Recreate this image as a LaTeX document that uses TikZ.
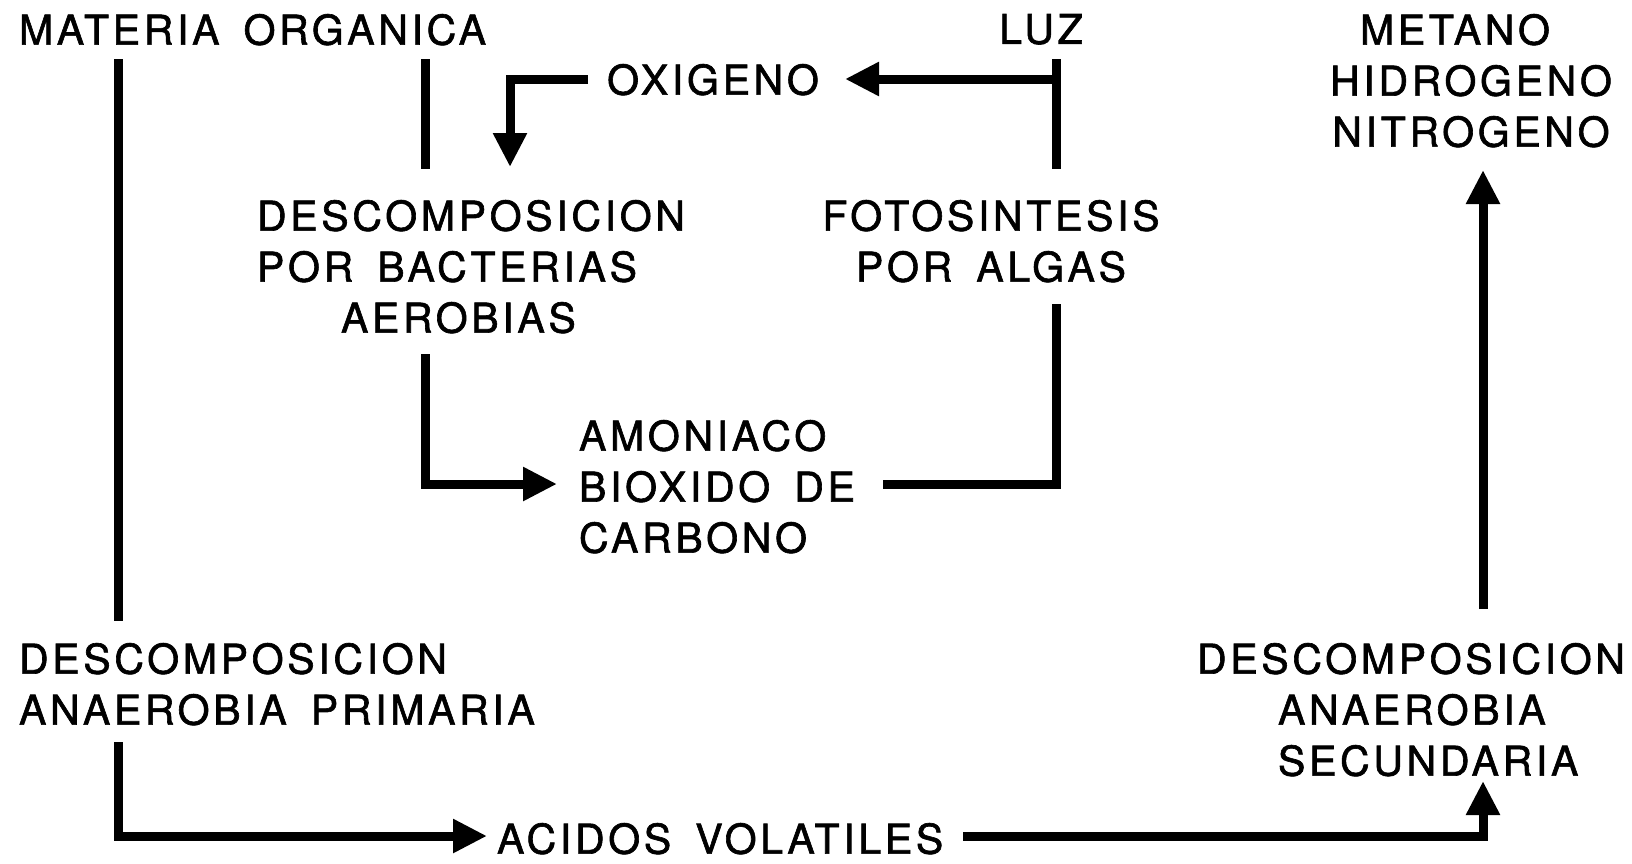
\documentclass[tikz,border=0pt]{standalone}
\usepackage{fontspec}
\setmainfont{TeX Gyre Heros}[LetterSpace=9,WordSpace=1.6,FakeBold=1.5]
\usetikzlibrary{arrows.meta}
\begin{document}
\begin{tikzpicture}[x=1pt,y=-1pt,
  lbl/.style={inner sep=0pt, outer sep=0pt, font=\fontsize{41}{51}\selectfont},
  ln/.style={line width=9pt, line join=miter},
  arr/.style={ln, -{Triangle[length=34pt,width=32pt]}}]
\useasboundingbox[fill=white] (0,0) rectangle (1632,863);

% texts
\node[lbl, anchor=north west] (mat) at (19,14) {MATERIA ORGANICA};
\node[lbl, anchor=north] (luz) at (1041,14) {LUZ};
\node[lbl, anchor=north, align=center] (gas) at (1471,14) {\hspace*{-32pt}METANO\\HIDROGENO\\NITROGENO};
\node[lbl, anchor=north] (oxi) at (713,64) {OXIGENO};
\node[lbl, anchor=north west, align=left] (aer) at (257,200) {DESCOMPOSICION\\POR BACTERIAS\\\hspace*{84pt}AEROBIAS};
\node[lbl, anchor=north, align=center] (foto) at (991,200) {FOTOSINTESIS\\POR ALGAS};
\node[lbl, anchor=north west, align=left] (amo) at (579,420) {AMONIACO\\BIOXIDO DE\\CARBONO};
\node[lbl, anchor=north west, align=left] (prim) at (19,643) {DESCOMPOSICION\\ANAEROBIA PRIMARIA};
\node[lbl, anchor=north west, align=left] (sec) at (1197,643) {DESCOMPOSICION\\\hspace*{81pt}ANAEROBIA\\\hspace*{81pt}SECUNDARIA};
\node[lbl, anchor=north west] (acid) at (497,823) {ACIDOS VOLATILES};

% connector ends
\coordinate (m1) at (118,59);
\coordinate (m2) at (118,621);
\coordinate (o1) at (425,59);
\coordinate (o2) at (425,169);
\coordinate (ox1) at (588,79);
\coordinate (ox2) at (510,167);
\coordinate (l1) at (1056,59);
\coordinate (l2) at (1056,169);
\coordinate (lb) at (1056,79);
\coordinate (oxr) at (845,79);
\coordinate (f1) at (1056,304);
\coordinate (f2) at (883,484);
\coordinate (b1) at (425,354);
\coordinate (b2) at (557,484);
\coordinate (p1) at (118,742);
\coordinate (p2) at (487,836);
\coordinate (v1) at (963,836);
\coordinate (v2) at (1483,781);
\coordinate (s1) at (1483,609);
\coordinate (s2) at (1483,170);

% connectors
\draw[ln] (m1) -- (m2);
\draw[ln] (o1) -- (o2);
\draw[arr] (ox1) -| (ox2);
\draw[ln] (l1) -- (l2);
\draw[arr] (lb) -- (oxr);
\draw[ln] (f1) |- (f2);
\draw[arr] (b1) |- (b2);
\draw[arr] (p1) |- (p2);
\draw[arr] (v1) -| (v2);
\draw[arr] (s1) -- (s2);
\end{tikzpicture}
\end{document}
